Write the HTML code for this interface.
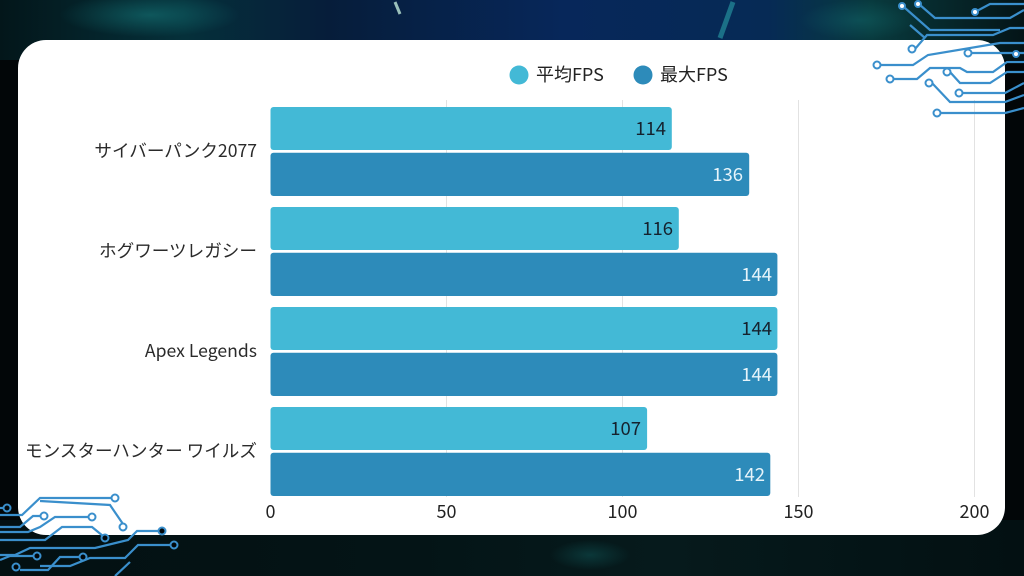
<!DOCTYPE html>
<html><head><meta charset="utf-8"><style>
html,body{margin:0;padding:0;background:#02070a;}
svg{display:block;}
text{font-family:"Noto Sans CJK JP","Liberation Sans",sans-serif;}
</style></head><body>
<svg width="1024" height="576" viewBox="0 0 1024 576" xmlns="http://www.w3.org/2000/svg">
<defs>
<linearGradient id="topg" x1="0" y1="0" x2="1" y2="0">
<stop offset="0" stop-color="#03161a"/>
<stop offset="0.18" stop-color="#05303a"/>
<stop offset="0.32" stop-color="#061d3a"/>
<stop offset="0.55" stop-color="#07275a"/>
<stop offset="0.75" stop-color="#062a55"/>
<stop offset="0.85" stop-color="#083a3e"/>
<stop offset="1" stop-color="#041417"/>
</linearGradient>
<linearGradient id="botg" x1="0" y1="0" x2="1" y2="0">
<stop offset="0" stop-color="#031012"/>
<stop offset="0.4" stop-color="#041416"/>
<stop offset="0.65" stop-color="#061a1c"/>
<stop offset="1" stop-color="#031012"/>
</linearGradient>
<radialGradient id="glow1" cx="0.5" cy="0.5" r="0.5">
<stop offset="0" stop-color="#1a8c8c" stop-opacity="0.45"/>
<stop offset="1" stop-color="#1a8c8c" stop-opacity="0"/>
</radialGradient>
</defs>
<rect x="0" y="0" width="1024" height="576" fill="#020608"/>
<rect x="0" y="0" width="1024" height="60" fill="url(#topg)"/>
<rect x="0" y="520" width="1024" height="56" fill="url(#botg)"/>
<ellipse cx="150" cy="15" rx="90" ry="22" fill="url(#glow1)"/>
<ellipse cx="860" cy="20" rx="60" ry="20" fill="url(#glow1)" opacity="0.6"/>
<ellipse cx="590" cy="555" rx="40" ry="15" fill="url(#glow1)" opacity="0.6"/>
<line x1="395" y1="2" x2="400" y2="14" stroke="#bfe8d8" stroke-width="3" opacity="0.8"/>
<line x1="733" y1="2" x2="720" y2="38" stroke="#2aa0a8" stroke-width="5" opacity="0.6"/>

<!-- card -->
<rect x="18" y="40" width="987" height="495" rx="28" ry="28" fill="#ffffff"/>

<!-- gridlines -->
<g stroke="#e2e2e2" stroke-width="1">
<line x1="446.5" y1="100" x2="446.5" y2="497"/>
<line x1="622.5" y1="100" x2="622.5" y2="497"/>
<line x1="798.5" y1="100" x2="798.5" y2="497"/>
<line x1="974.5" y1="100" x2="974.5" y2="497"/>
</g>

<!-- bars -->
<g>
<rect x="270.5" y="107" width="401.3" height="43" rx="3" fill="#43B9D6"/>
<rect x="270.5" y="152.7" width="478.7" height="43.3" rx="3" fill="#2D8BBA"/>
<rect x="270.5" y="207" width="408.3" height="43" rx="3" fill="#43B9D6"/>
<rect x="270.5" y="252.7" width="506.9" height="43.3" rx="3" fill="#2D8BBA"/>
<rect x="270.5" y="307" width="506.9" height="43" rx="3" fill="#43B9D6"/>
<rect x="270.5" y="352.7" width="506.9" height="43.3" rx="3" fill="#2D8BBA"/>
<rect x="270.5" y="407" width="376.6" height="43" rx="3" fill="#43B9D6"/>
<rect x="270.5" y="452.7" width="499.8" height="43.3" rx="3" fill="#2D8BBA"/>
</g>

<!-- value labels -->
<g font-size="18.5" text-anchor="end">
<text x="666" y="135" fill="#15222e">114</text>
<text x="743" y="181" fill="#e6f4fa">136</text>
<text x="673" y="235" fill="#15222e">116</text>
<text x="772" y="281" fill="#e6f4fa">144</text>
<text x="772" y="335" fill="#15222e">144</text>
<text x="772" y="381" fill="#e6f4fa">144</text>
<text x="641" y="435" fill="#15222e">107</text>
<text x="765" y="481" fill="#e6f4fa">142</text>
</g>

<!-- category labels -->
<g font-size="17.6" text-anchor="end" fill="#2a2a2a">
<text x="257" y="157">サイバーパンク2077</text>
<text x="257" y="257">ホグワーツレガシー</text>
<text x="257" y="357">Apex Legends</text>
<text x="257" y="457">モンスターハンター ワイルズ</text>
</g>

<!-- x ticks -->
<g font-size="18" text-anchor="middle" fill="#222222">
<text x="270.5" y="518">0</text>
<text x="446.5" y="518">50</text>
<text x="622.5" y="518">100</text>
<text x="798.5" y="518">150</text>
<text x="974.5" y="518">200</text>
</g>

<!-- legend -->
<circle cx="519" cy="75" r="9.5" fill="#43B9D6"/>
<text x="536" y="81" font-size="18" fill="#222222">平均FPS</text>
<circle cx="643" cy="75" r="9.5" fill="#2D8BBA"/>
<text x="660" y="81" font-size="18" fill="#222222">最大FPS</text>

<!-- circuit top-right -->
<g stroke="#3a8fcc" stroke-width="2.2" fill="none">
<polyline points="880,65 913,65 928,55 1000,43 1024,43"/>
<polyline points="893,79 917,79 930,68 960,68 967,72 993,72 1007,62 1024,62"/>
<polyline points="972,53 1024,53"/>
<polyline points="950,72 960,83 990,83 1007,72 1024,72"/>
<polyline points="932,83 950,102 1005,102 1024,95"/>
<polyline points="962,93 1005,93 1024,83"/>
<polyline points="940,113 1005,113 1024,108"/>
<polyline points="915,49 927,35 993,35 1010,28 1024,28"/>
<polyline points="905,8 930,30 1000,30"/>
<polyline points="920,5 935,18 1010,18 1024,10"/>
<polyline points="975,12 990,4 1024,4"/>
<polyline points="910,25 925,38"/>
</g>
<g stroke="#3a8fcc" stroke-width="2" fill="#ffffff">
<circle cx="877" cy="65" r="3.5"/>
<circle cx="890" cy="79" r="3.5"/>
<circle cx="968" cy="53" r="3.5"/>
<circle cx="947" cy="72" r="3.5"/>
<circle cx="929" cy="83" r="3.5"/>
<circle cx="959" cy="93" r="3.5"/>
<circle cx="937" cy="113" r="3.5"/>
<circle cx="912" cy="49" r="3.5"/>
<circle cx="902" cy="6" r="3"/>
<circle cx="918" cy="4" r="3"/>
<circle cx="975" cy="12" r="3"/>
<circle cx="1016" cy="54" r="3"/>
</g>

<!-- circuit bottom-left -->
<g stroke="#3a8fcc" stroke-width="2.2" fill="none">
<polyline points="112,498 40,498 22,515 0,515"/>
<polyline points="40,501 110,505 123,524"/>
<polyline points="41,516 33,516 20,527 0,527"/>
<polyline points="89,517 55,517 40,527 28,532 0,532"/>
<polyline points="103,536 92,527 62,527 45,540 0,540"/>
<polyline points="159,531 137,531 128,540 95,548 30,548 15,555 0,555"/>
<polyline points="171,545 138,545 125,558 90,558 70,566 40,566"/>
<polyline points="0,508 4,508"/>
<polyline points="34,556 10,556 0,560"/>
<polyline points="80,557 60,557 48,570 20,570"/>
<polyline points="130,562 115,576"/>
</g>
<g stroke="#3a8fcc" stroke-width="2" fill="#02070a">
<circle cx="115" cy="498" r="3.5" fill="#ffffff"/>
<circle cx="123" cy="527" r="3.5" fill="#ffffff"/>
<circle cx="44" cy="516" r="3.5" fill="#ffffff"/>
<circle cx="92" cy="517" r="3.5" fill="#ffffff"/>
<circle cx="105" cy="538" r="3.5"/>
<circle cx="162" cy="531" r="3.5"/>
<circle cx="174" cy="545" r="3.5"/>
<circle cx="7" cy="508" r="3.5"/>
<circle cx="37" cy="556" r="3.5"/>
<circle cx="83" cy="557" r="3.5"/>
<circle cx="16" cy="567" r="3.5"/>
</g>
</svg>
</body></html>
